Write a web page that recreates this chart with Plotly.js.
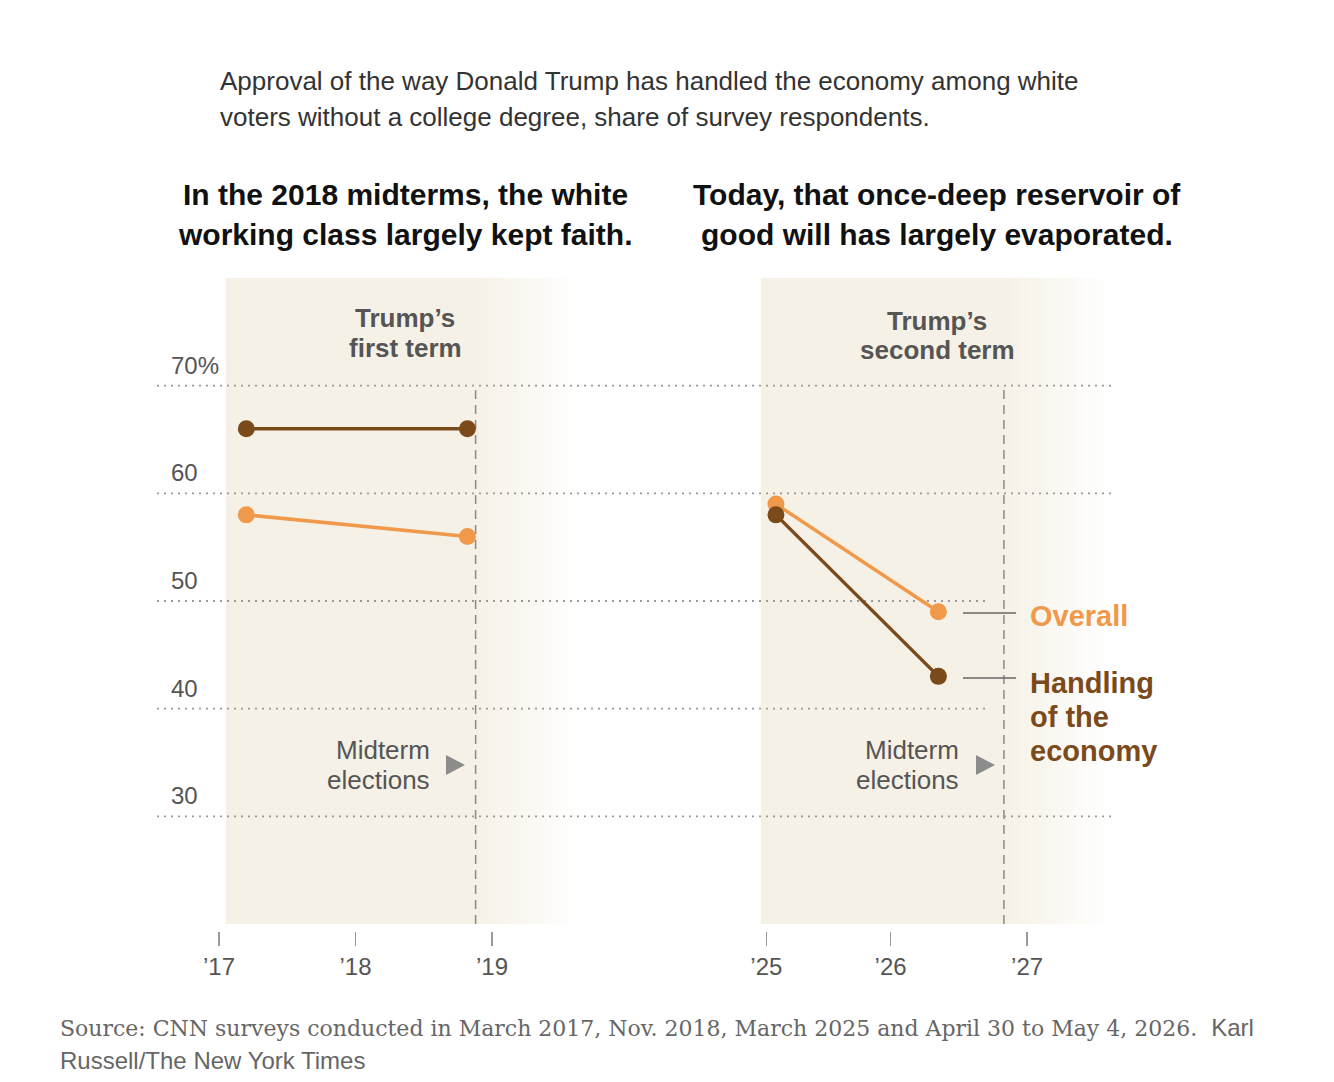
<!DOCTYPE html>
<html>
<head>
<meta charset="utf-8">
<script src="https://cdn.plot.ly/plotly-3.0.1.min.js"></script>
<style>
  html, body { margin: 0; padding: 0; background: #fff; }
  #myDiv { width: 1334px; height: 1082px; }
</style>
</head>
<body>
<div id="myDiv"></div>
<script>
// survey dates as decimal years
var dates1 = [2017.2, 2018.82];
var dates2 = [2025.16, 2026.35];
var overall1 = [58, 56];
var economy1 = [66, 66];
var overall2 = [59, 49];
var economy2 = [58, 43];

var ticks1 = [2017, 2018, 2019];
var tickText1 = ['\u201917', '\u201918', '\u201919'];
var ticks2 = [2025.09, 2026, 2027];
var tickText2 = ['\u201925', '\u201926', '\u201927'];

var yTicks = [70, 60, 50, 40, 30];
var yTickText = ['70%', '60', '50', '40', '30'];

var orange = '#f0994a';
var brown = '#7b4a1b';
var shade = '246,241,230';
var W = 1334, H = 1082;
var sans = 'Liberation Sans, Arial, sans-serif';

function px(x) { return x / W; }
function py(y) { return 1 - y / H; }

function series(x, y, xa, name, color) {
  return {
    x: x, y: y, xaxis: xa, yaxis: 'y',
    mode: 'lines+markers', name: name,
    line: {color: color, width: 3.5}, marker: {color: color, size: 17}
  };
}
var data = [
  series(dates1, overall1, 'x', 'Overall', orange),
  series(dates1, economy1, 'x', 'Handling of the economy', brown),
  series(dates2, overall2, 'x2', 'Overall', orange),
  series(dates2, economy2, 'x2', 'Handling of the economy', brown)
];

var shapes = [];
var plotTop = py(278), plotBottom = py(924);

// shaded terms, solid part then fade out (paper y so they sit under the gridlines)
function term(xref, start, midterm, end) {
  shapes.push({type: 'rect', xref: xref, yref: 'paper', x0: start, x1: midterm, y0: plotBottom, y1: plotTop,
    fillcolor: 'rgb(' + shade + ')', line: {width: 0}, layer: 'below'});
  var n = 30, step = (end - midterm) / n;
  for (var i = 0; i < n; i++) {
    shapes.push({type: 'rect', xref: xref, yref: 'paper', x0: midterm + i * step, x1: midterm + (i + 1) * step + 0.002,
      y0: plotBottom, y1: plotTop, fillcolor: 'rgba(' + shade + ',' + (1 - (i + 0.5) / n).toFixed(3) + ')',
      line: {width: 0}, layer: 'below'});
  }
}
term('x', 2017.05, 2018.88, 2019.63);
term('x2', 2025.05, 2026.83, 2027.59);

// dotted gridlines
var gridEnd = [1112, 1112, 987, 987, 1112];
yTicks.forEach(function (v, i) {
  shapes.push({type: 'line', xref: 'paper', yref: 'y', x0: px(157), x1: px(gridEnd[i]), y0: v, y1: v,
    line: {color: '#999', width: 1.8, dash: '2px,5px'}, layer: 'below'});
});

// midterm election dates
shapes.push({type: 'line', xref: 'x', yref: 'y', x0: 2018.88, x1: 2018.88, y0: 20, y1: 70,
  line: {color: '#8a8a8a', width: 1.5, dash: '9px,6px'}, layer: 'below'});
shapes.push({type: 'line', xref: 'x2', yref: 'y', x0: 2026.83, x1: 2026.83, y0: 20, y1: 70,
  line: {color: '#8a8a8a', width: 1.5, dash: '9px,6px'}, layer: 'below'});

// midterm arrows
function tri(x, y) {
  return 'M' + px(x) + ',' + py(y - 10) + ' L' + px(x + 19) + ',' + py(y) + ' L' + px(x) + ',' + py(y + 10) + ' Z';
}
shapes.push({type: 'path', xref: 'paper', yref: 'paper', path: tri(446, 765), fillcolor: '#8c8c8c', line: {width: 0}});
shapes.push({type: 'path', xref: 'paper', yref: 'paper', path: tri(976, 765), fillcolor: '#8c8c8c', line: {width: 0}});

// label leader lines
shapes.push({type: 'line', xref: 'paper', yref: 'paper', x0: px(963), x1: px(1016), y0: py(613), y1: py(613),
  line: {color: '#666', width: 1.5}});
shapes.push({type: 'line', xref: 'paper', yref: 'paper', x0: px(963), x1: px(1016), y0: py(678), y1: py(678),
  line: {color: '#666', width: 1.5}});

var annotations = [];
function txt(text, x, y, size, color, anchor, bold, family) {
  annotations.push({
    text: bold ? '<b>' + text + '</b>' : text,
    xref: 'paper', yref: 'paper', x: px(x), y: py(y),
    xanchor: anchor, yanchor: 'middle', showarrow: false,
    font: {family: family || sans, size: size, color: color}
  });
}

txt('Approval of the way Donald Trump has handled the economy among white', 218, 81, 26, '#333', 'left');
txt('voters without a college degree, share of survey respondents.', 218, 117, 26, '#333', 'left');

txt('In the 2018 midterms, the white', 405, 195, 30, '#111', 'center', true);
txt('working class largely kept faith.', 405, 235, 30, '#111', 'center', true);
txt('Today, that once-deep reservoir of', 937, 195, 30, '#111', 'center', true);
txt('good will has largely evaporated.', 937, 235, 30, '#111', 'center', true);

txt('Trump\u2019s', 405, 318, 26, '#555', 'center', true);
txt('first term', 405, 348, 26, '#555', 'center', true);
txt('Trump\u2019s', 937, 321, 26, '#555', 'center', true);
txt('second term', 937, 350, 26, '#555', 'center', true);

txt('Midterm', 432, 750, 26, '#555', 'right');
txt('elections', 432, 780, 26, '#555', 'right');
txt('Midterm', 961, 750, 26, '#555', 'right');
txt('elections', 961, 780, 26, '#555', 'right');

txt('Overall', 1028, 616, 29, orange, 'left', true);
txt('Handling', 1028, 683, 29, brown, 'left', true);
txt('of the', 1028, 717, 29, brown, 'left', true);
txt('economy', 1028, 751, 29, brown, 'left', true);

yTicks.forEach(function (v, i) {
  annotations.push({text: yTickText[i], xref: 'paper', yref: 'y', x: px(169), y: v,
    xanchor: 'left', yanchor: 'bottom', yshift: 5, showarrow: false,
    font: {family: sans, size: 24, color: '#555'}});
});

txt('Source: CNN surveys conducted in March 2017, Nov. 2018, March 2025 and April 30 to May 4, 2026.  ' +
  '<span style="font-family:Liberation Sans;font-size:24px">Karl</span>', 58, 1027, 22, '#666', 'left', false,
  'DejaVu Serif, Georgia, serif');
txt('Russell/The New York Times', 58, 1060, 24, '#666', 'left');

var axisBase = {
  showgrid: false, zeroline: false, showline: false,
  ticks: 'outside', ticklen: 14, tickwidth: 1.5, tickcolor: '#999',
  tickfont: {family: sans, size: 24, color: '#555'},
  fixedrange: true
};

var layout = {
  width: W, height: H,
  margin: {l: 0, r: 0, t: 0, b: 0},
  paper_bgcolor: '#fff', plot_bgcolor: 'rgba(0,0,0,0)',
  showlegend: false,
  xaxis: Object.assign({}, axisBase, {domain: [px(157), px(600)], range: [2016.5458, 2019.7912],
    tickvals: ticks1, ticktext: tickText1, anchor: 'y'}),
  xaxis2: Object.assign({}, axisBase, {domain: [px(700), px(1180)], range: [2024.6037, 2028.1201],
    tickvals: ticks2, ticktext: tickText2, anchor: 'y'}),
  yaxis: {domain: [py(931), py(278)], range: [19.35, 80], visible: false, fixedrange: true},
  shapes: shapes,
  annotations: annotations
};

Plotly.newPlot('myDiv', data, layout, {displayModeBar: false, staticPlot: true});
</script>
</body>
</html>
